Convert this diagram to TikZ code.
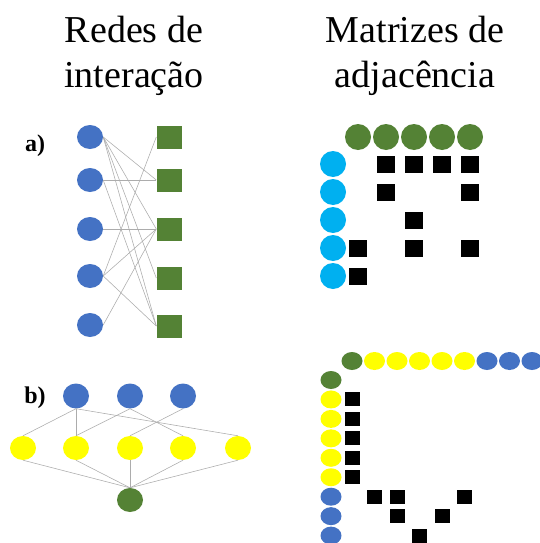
\documentclass[tikz,border=0pt]{standalone}
\usepackage{fontspec}
\setmainfont{Liberation Serif}
\usetikzlibrary{shapes.geometric}
\definecolor{oblue}{HTML}{4472C4}
\definecolor{ogreen}{HTML}{548235}
\definecolor{oyellow}{HTML}{FFFF00}
\definecolor{ocyan}{HTML}{00B0F0}
\begin{document}
\begin{tikzpicture}[x=1pt,y=-1pt,
  el/.style={ellipse, inner sep=0pt, draw=none},
  bcirc/.style={el, fill=oblue, minimum width=26pt, minimum height=24pt},
  gsq/.style={rectangle, fill=ogreen, inner sep=0pt, minimum width=25pt, minimum height=23pt},
  mcirc/.style={el, minimum width=26pt, minimum height=26pt},
  ksq/.style={rectangle, fill=black, inner sep=0pt, minimum width=18pt, minimum height=17pt},
  ksqs/.style={rectangle, fill=black, inner sep=0pt, minimum width=15pt, minimum height=14pt},
  ncirc/.style={el, minimum width=26pt, minimum height=24pt},
  scirc/.style={el, minimum width=21pt, minimum height=18pt},
  link/.style={draw=gray!65, line width=0.55pt},
  title/.style={font=\fontsize{38}{44}\selectfont, inner sep=0pt, anchor=base},
  lab/.style={font=\bfseries\fontsize{24}{28}\selectfont, inner sep=0pt}]
\useasboundingbox (0,0) rectangle (540,543);
\fill[white] (0,0) rectangle (540,543);

% titles
\node[title] (t1a) at (134,43) {Redes de};
\node[title] (t1b) at (134,88) {interação};
\node[title] (t2a) at (415,43) {Matrizes de};
\node[title] (t2b) at (415,88) {adjacência};

% labels
\node[lab] (la) at (35,146) {a)};
\node[lab] (lb) at (35,398) {b)};

% ---- a) network
\foreach \i/\y in {1/137,2/180,3/229,4/276,5/325}
  \node[bcirc] (c\i) at (90,\y) {};
\foreach \i/\y in {1/137,2/180,3/229,4/278,5/326}
  \node[gsq] (s\i) at (169,\y) {};
\foreach \a/\b in {1/2,1/3,1/4,1/5,2/2,2/5,3/3,4/1,4/3,4/5,5/3}
  \draw[link] (c\a.east) -- (s\b.west);

% ---- a) matrix
\foreach \i in {1,...,5}{
  \node[mcirc, fill=ogreen] (gt\i) at ({358+28*(\i-1)},137) {};
  \node[mcirc, fill=ocyan] (cl\i) at (333,{164+28*(\i-1)}) {};
}
\foreach \r/\c in {1/2,1/3,1/4,1/5,2/2,2/5,3/3,4/1,4/3,4/5,5/1}
  \node[ksq] (ma\r\c) at ({358+28*(\c-1)},{164+28*(\r-1)}) {};

% ---- b) network
\foreach \i/\x in {1/76,2/130,3/183}
  \node[ncirc, fill=oblue, minimum height=25pt] (b\i) at (\x,396) {};
\foreach \i/\x in {1/23,2/76,3/130,4/183,5/238}
  \node[ncirc, fill=oyellow] (y\i) at (\x,448) {};
\node[ncirc, fill=ogreen] (g) at (130,500) {};
\foreach \a/\b in {1/1,1/2,1/5,2/2,2/4,3/3}
  \draw[link] (b\a.south) -- (y\b.north);
\foreach \b in {1,...,5}
  \draw[link] (y\b.south) -- (g.north);

% ---- b) matrix
\node[scirc, fill=ogreen] (bt0) at (352,361) {};
\foreach \i in {1,...,5}
  \node[scirc, fill=oyellow] (bt\i) at ({352+22.5*\i},361) {};
\foreach \i in {6,7,8}
  \node[scirc, fill=oblue] (bt\i) at ({352+22.5*\i},361) {};
\node[scirc, fill=ogreen] (bl0) at (331,380) {};
\foreach \i in {1,...,5}
  \node[scirc, fill=oyellow] (bl\i) at (331,{380+19.45*\i}) {};
\foreach \i in {6,7,8}
  \node[scirc, fill=oblue] (bl\i) at (331,{380+19.45*\i}) {};
\foreach \r/\c in {1/0,2/0,3/0,4/0,5/0,6/1,6/2,6/5,7/2,7/4,8/3}
  \node[ksqs] (mb\r\c) at ({352+22.5*\c},{380+19.45*\r}) {};
\end{tikzpicture}
\end{document}
